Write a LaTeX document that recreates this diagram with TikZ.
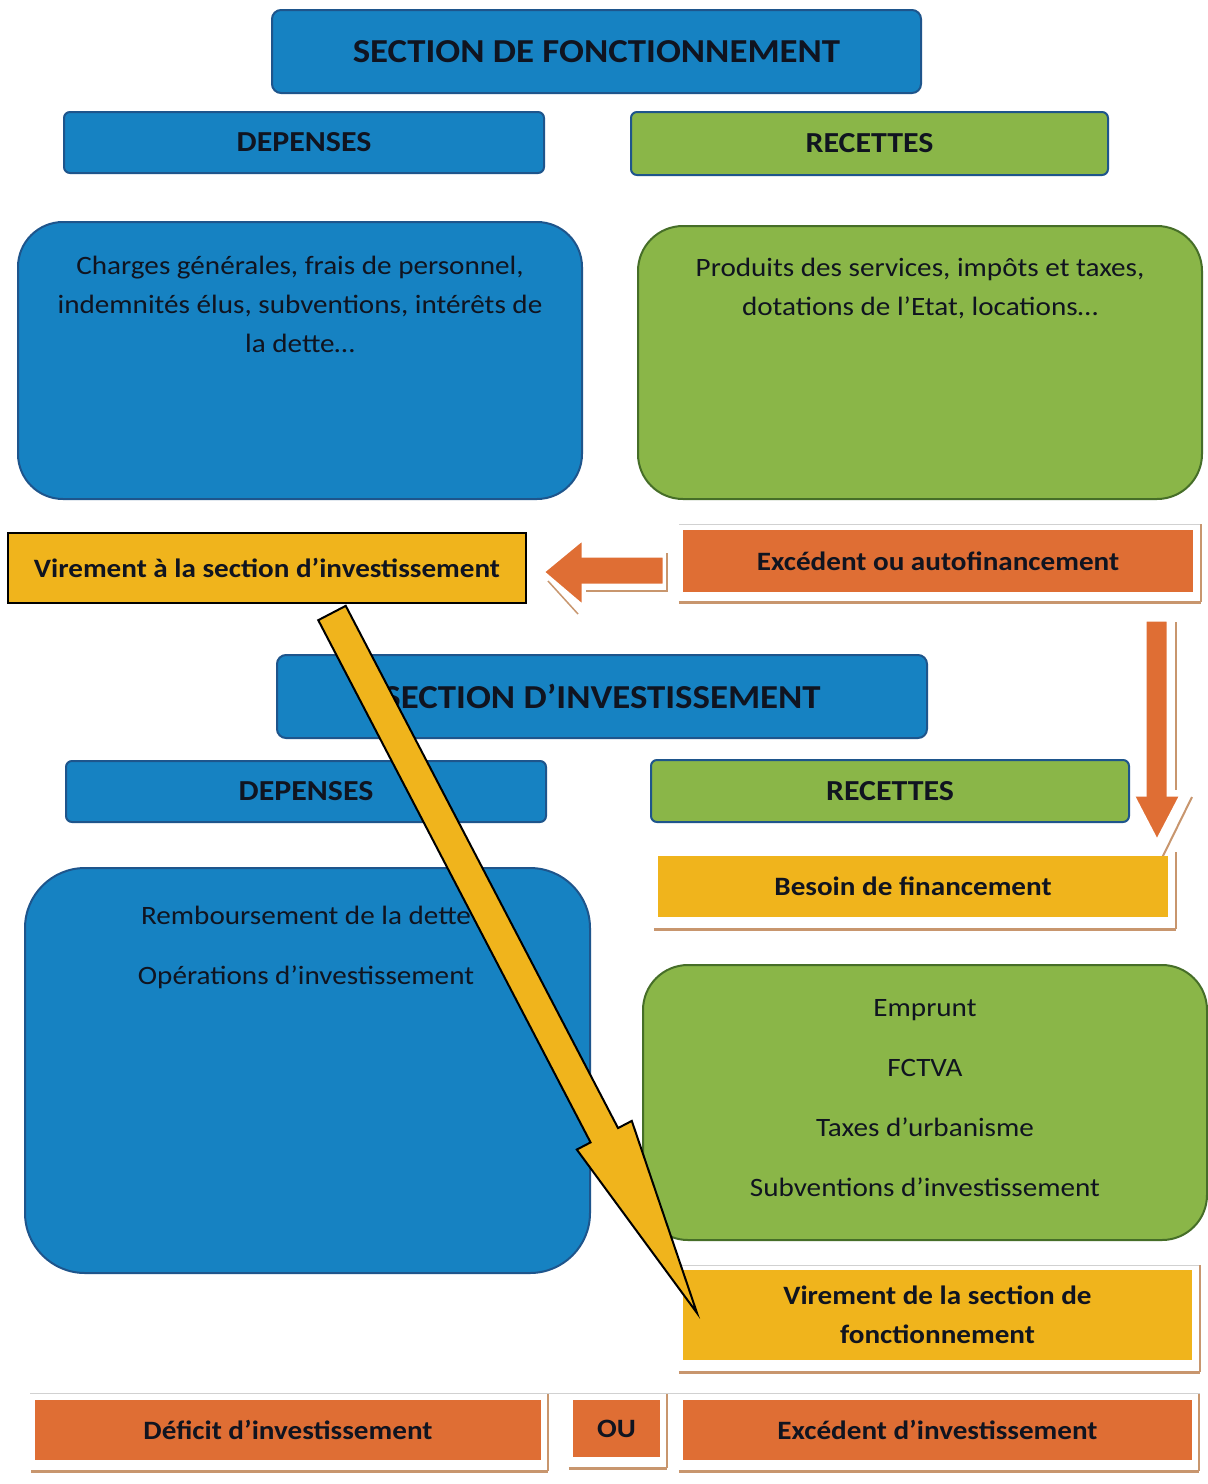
\documentclass[tikz,border=0pt]{standalone}
\usepackage{fontspec}
\setmainfont{Carlito}[FakeStretch=1.1]
\usetikzlibrary{calc}
\definecolor{bblue}{RGB}{22,130,194}
\definecolor{bbluedark}{RGB}{30,85,140}
\definecolor{ggreen}{RGB}{138,182,72}
\definecolor{ggreendark}{RGB}{70,110,40}
\definecolor{yyellow}{RGB}{240,180,28}
\definecolor{oorange}{RGB}{223,110,52}
\definecolor{tanline}{RGB}{200,150,110}
\definecolor{txt}{RGB}{16,20,32}
\begin{document}
\begin{tikzpicture}[x=1pt,y=-1pt,
  every node/.style={inner sep=0pt, text=txt},
  hdr/.style={draw=bbluedark, line width=2pt, rounded corners=9pt, fill=bblue, font=\fontsize{33.5}{44}\selectfont\bfseries},
  subblue/.style={draw=bbluedark, line width=2pt, rounded corners=6pt, fill=bblue, font=\fontsize{29}{36}\selectfont\bfseries},
  subgreen/.style={draw=bbluedark, line width=2pt, rounded corners=6pt, fill=ggreen, font=\fontsize{29}{36}\selectfont\bfseries},
  bigblue/.style={draw=bbluedark, line width=2pt, fill=bblue},
  biggreen/.style={draw=ggreendark, line width=2pt, fill=ggreen},
  body/.style={align=center, font=\fontsize{26.5}{39}\selectfont},
  flatorange/.style={fill=oorange, font=\fontsize{26.5}{39}\selectfont\bfseries, align=center},
  flatyellow/.style={fill=yyellow, font=\fontsize{26.5}{39}\selectfont\bfseries, align=center},
  shline/.style={draw=tanline, line width=3pt},
  topline/.style={draw=black!18, line width=1pt},
  blockarrow/.style={fill=oorange, draw=white, line width=3pt, line join=miter},
  yarrow/.style={fill=yyellow, draw=black, line width=2pt, line join=miter}
]
\useasboundingbox[fill=white] (0,0) rectangle (1208,1484);

% ---------- Section de fonctionnement ----------
\node[hdr, minimum width=649pt, minimum height=83pt] (titleF) at (596.5,51.5) {SECTION DE FONCTIONNEMENT};
\node[subblue, minimum width=480pt, minimum height=61pt] (depF) at (304,142.5) {DEPENSES};
\node[subgreen, minimum width=477pt, minimum height=63pt] (recF) at (869.5,143.5) {RECETTES};

\node[bigblue, rounded corners=45pt, minimum width=564pt, minimum height=277pt] (boxDF) at (300,360.5) {};
\node[body] (txtDF) at (300,304) {Charges générales, frais de personnel,\\indemnités élus, subventions, intérêts de\\la dette…};
\node[biggreen, rounded corners=45pt, minimum width=564pt, minimum height=273pt] (boxRF) at (920,362.5) {};
\node[body] (txtRF) at (920,288) {Produits des services, impôts et taxes,\\dotations de l’Etat, locations…};

% ---------- Virement / Excedent ----------
\node[flatyellow, draw=black, line width=2pt, minimum width=518pt, minimum height=70pt] (virA) at (267,568) {Virement à la section d’investissement};

\draw[topline] ([xshift=-4pt,yshift=6pt]683,530) -- ([xshift=8pt,yshift=6pt]1193,530);
\node[flatorange, minimum width=510pt, minimum height=62pt] (excA) at (938,561) {Excédent ou autofinancement};
\draw[shline] ([xshift=-4pt,yshift=-10pt]excA.south west) -- ([xshift=8pt,yshift=-10pt]excA.south east);
\draw[draw=tanline, line width=2pt] ([xshift=8pt,yshift=-10pt]excA.south east) -- ([xshift=8pt,yshift=6pt]excA.north east);

% left arrow (excedent -> virement)
\draw[draw=tanline, line width=2pt] (586,591) -- (667,591) -- (667,553);
\draw[draw=tanline, line width=1.5pt] (548,581) -- (578,614);
\draw[blockarrow] (664,556) -- (583,556) -- (583,539) -- (543,572) -- (583,606) -- (583,585) -- (664,585) -- cycle;

% down arrow (excedent -> besoin)
\draw[draw=tanline, line width=2pt] (1176,622) -- (1176,790);
\draw[draw=tanline, line width=2pt] (1192,797) -- (1161,860);

% ---------- Section d'investissement ----------
\node[hdr, minimum width=650pt, minimum height=83pt] (titleI) at (602,696.5) {SECTION D’INVESTISSEMENT};
\node[subblue, minimum width=480pt, minimum height=61pt] (depI) at (306,791.5) {DEPENSES};
\node[subgreen, minimum width=478pt, minimum height=62pt] (recI) at (890,791) {RECETTES};

\draw[blockarrow] (1145,620) -- (1168,620) -- (1168,795) -- (1181,795) -- (1157,841) -- (1133,795) -- (1145,795) -- cycle;

\node[flatyellow, minimum width=510pt, minimum height=61pt] (besoin) at (913,886.5) {Besoin de financement};
\draw[shline] ([xshift=-4pt,yshift=-12pt]besoin.south west) -- ([xshift=8pt,yshift=-12pt]besoin.south east);
\draw[draw=tanline, line width=2pt] ([xshift=8pt,yshift=-12pt]besoin.south east) -- ([xshift=8pt,yshift=4pt]besoin.north east);

\node[bigblue, rounded corners=60pt, minimum width=565pt, minimum height=405pt] (boxDI) at (307.5,1070.5) {};
\node[body, font=\fontsize{26.5}{60}\selectfont] (txtDI) at (306,947) {Remboursement de la dette\\Opérations d’investissement};

\node[biggreen, rounded corners=45pt, minimum width=564pt, minimum height=275pt] (boxRI) at (925,1102.5) {};
\node[body, font=\fontsize{26.5}{60}\selectfont] (txtRI) at (925,1098) {Emprunt\\FCTVA\\Taxes d’urbanisme\\Subventions d’investissement};

\draw[topline] (680,1265) -- (1200,1265);
\node[flatyellow, minimum width=509pt, minimum height=90pt] (virB) at (937.5,1315) {Virement de la section de\\fonctionnement};
\draw[shline] ([xshift=-4pt,yshift=-12pt]virB.south west) -- ([xshift=8pt,yshift=-12pt]virB.south east);
\draw[draw=tanline, line width=2pt] ([xshift=8pt,yshift=-12pt]virB.south east) -- ([xshift=8pt,yshift=5pt]virB.north east);

% ---------- bottom row ----------
\draw[topline] (30,1393) -- (1200,1393);
\node[flatorange, minimum width=506pt, minimum height=60pt] (deficit) at (288,1430) {Déficit d’investissement};
\node[flatorange, minimum width=87pt, minimum height=57pt] (ou) at (616.5,1428.5) {OU};
\node[flatorange, minimum width=509pt, minimum height=60pt] (excI) at (937.5,1430) {Excédent d’investissement};
\foreach \n in {deficit,ou,excI}{
  \draw[shline] ([xshift=-4pt,yshift=-11pt]\n.south west) -- ([xshift=7pt,yshift=-11pt]\n.south east);
  \draw[draw=tanline, line width=2pt] ([xshift=7pt,yshift=-11pt]\n.south east) -- ([xshift=7pt,yshift=6pt]\n.north east);
}

% ---------- big yellow arrow (virement -> virement) ----------
\coordinate (ys) at (332,613);
\coordinate (yt) at (697,1313);
\coordinate (hb) at ($(ys)!589pt!(yt)$);
\draw[yarrow] ($(ys)!15.5pt!90:(yt)$) -- ($(hb)!15.5pt!90:(yt)$) -- ($(hb)!31pt!90:(yt)$) -- (yt)
  -- ($(hb)!31pt!-90:(yt)$) -- ($(hb)!15.5pt!-90:(yt)$) -- ($(ys)!15.5pt!-90:(yt)$) -- cycle;
\end{tikzpicture}
\end{document}
